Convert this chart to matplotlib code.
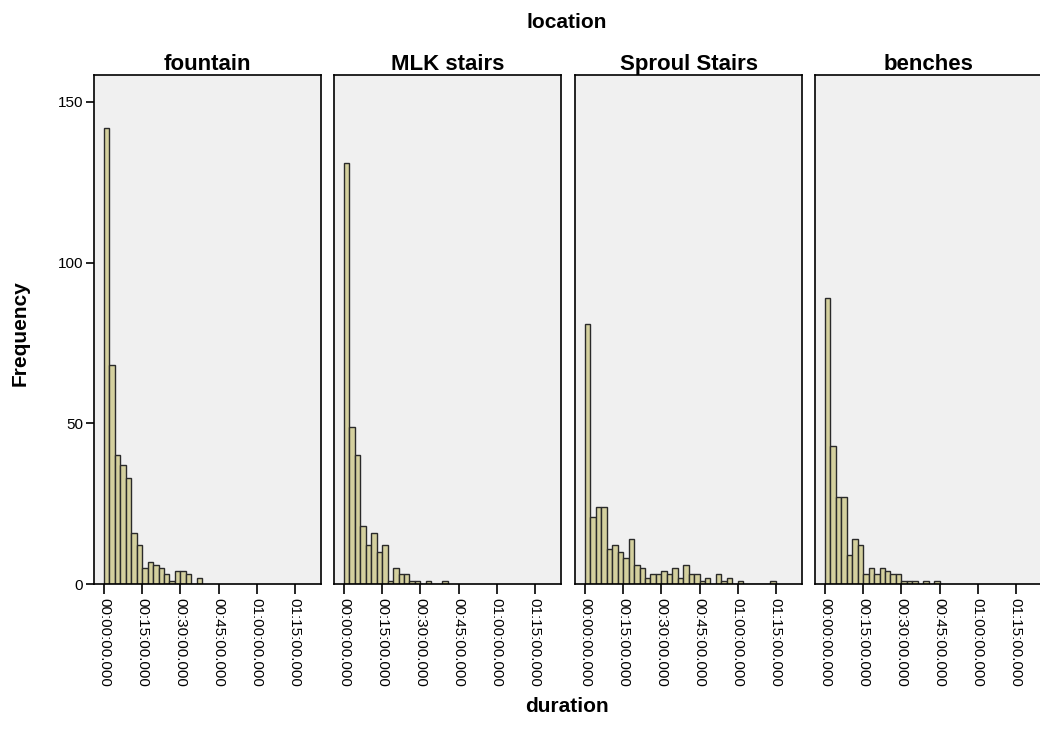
import matplotlib
matplotlib.use("Agg")
import matplotlib.pyplot as plt

# ---------------- data ----------------
locations = ["fountain", "MLK stairs", "Sproul Stairs", "benches"]
bin_width_min = 15 / 7  # minutes per histogram bin
fountain_counts = [142, 68, 40, 37, 33, 16, 12, 5, 7, 6, 5, 3, 1, 4, 4, 3, 0, 2]
mlk_counts = [131, 49, 40, 18, 12, 16, 10, 12, 1, 5, 3, 3, 1, 1, 0, 1, 0, 0, 1]
sproul_counts = [81, 21, 24, 24, 11, 12, 10, 8, 14, 6, 5, 2, 3, 3, 4, 3, 5, 2, 6,
                 3, 3, 1, 2, 0, 3, 1, 2, 0, 1, 0, 0, 0, 0, 0, 1]
benches_counts = [89, 43, 27, 27, 9, 14, 12, 3, 5, 3, 5, 4, 3, 3, 1, 1, 1, 0, 1, 0, 1]
x_ticks_min = [0, 15, 30, 45, 60, 75]
x_tick_labels = ["00:00:00.000", "00:15:00.000", "00:30:00.000",
                 "00:45:00.000", "01:00:00.000", "01:15:00.000"]
y_ticks = [0, 50, 100, 150]
all_counts = [fountain_counts, mlk_counts, sproul_counts, benches_counts]

# ---------------- style ----------------
plt.rcParams['font.family'] = ['Liberation Sans', 'DejaVu Sans']
W, H = 1040, 743
fig = plt.figure(figsize=(W / 100, H / 100), dpi=100)
fig.patch.set_facecolor("white")

lefts = [94, 334, 575, 815]
pw = 227
top, bottom = 75, 584
bar_face = "#D4D09E"
bar_edge = "#2a2a2a"

for i, (name, counts) in enumerate(zip(locations, all_counts)):
    ax = fig.add_axes([lefts[i] / W, 1 - bottom / H, pw / W, (bottom - top) / H])
    ax.set_facecolor("#F0F0F0")
    edges = [k * bin_width_min for k in range(len(counts))]
    ax.bar(edges, counts, width=bin_width_min, align="edge",
           color=bar_face, edgecolor=bar_edge, linewidth=1.0)
    ax.set_xlim(-3.95, 85.3)
    ax.set_ylim(0, 158.4)
    ax.set_xticks(x_ticks_min)
    ax.set_xticklabels(x_tick_labels, rotation=-90, fontsize=11)
    ax.tick_params(axis="x", direction="out", length=7, width=1.2, pad=3, colors="black")
    if i == 0:
        ax.set_yticks(y_ticks)
        ax.set_yticklabels([str(v) for v in y_ticks], fontsize=11)
        ax.tick_params(axis="y", direction="out", length=6, width=1.2, pad=2)
    else:
        ax.set_yticks([])
    for s in ax.spines.values():
        s.set_color("black")
        s.set_linewidth(1.2)
    ax.set_title(name, fontsize=16, fontweight="bold", pad=3)

fig.text(567 / W, 1 - 22 / H, "location", ha="center", va="center",
         fontsize=15, fontweight="bold")
fig.text(567 / W, 1 - 707 / H, "duration", ha="center", va="center",
         fontsize=15, fontweight="bold")
fig.text(20 / W, 1 - 333 / H, "Frequency", ha="center", va="center",
         rotation=90, fontsize=15, fontweight="bold")

fig.savefig("out.png", dpi=100)
